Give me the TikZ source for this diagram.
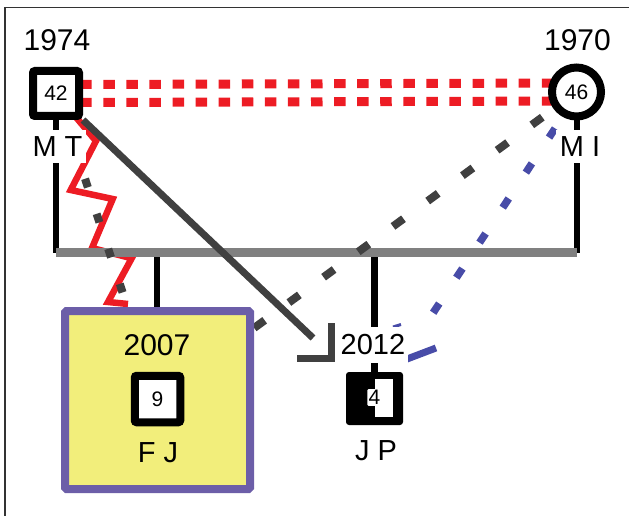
\documentclass[tikz,border=0pt]{standalone}
\usepackage{fontspec}
\setmainfont{Liberation Sans}
\usetikzlibrary{calc}
\pgfdeclarelayer{background}
\pgfsetlayers{background,main}
\definecolor{myred}{RGB}{237,28,36}
\definecolor{dgray}{RGB}{64,64,64}
\definecolor{bargray}{RGB}{128,128,128}
\definecolor{myblue}{RGB}{72,76,168}
\definecolor{mypurple}{RGB}{108,94,168}
\definecolor{myyellow}{RGB}{242,238,123}
\tikzset{
  yeartext/.style={inner sep=0pt, font=\fontsize{30}{36}\selectfont},
  nametext/.style={fill=white, inner xsep=4pt, inner ysep=7pt, font=\fontsize{29}{35}\selectfont},
  agetext/.style={inner sep=0pt, font=\fontsize{21}{25}\selectfont},
  malebox/.style={draw=black, fill=white, line width=8pt, rounded corners=2pt, inner sep=0pt, font=\fontsize{21}{25}\selectfont},
  femalecirc/.style={circle, draw=black, fill=white, line width=8pt, inner sep=0pt, minimum size=49pt, font=\fontsize{21}{25}\selectfont},
  kinline/.style={line width=6.5pt, black},
  barline/.style={line width=8.5pt, bargray},
  reddot/.style={line width=9pt, myred, dash pattern=on 11.5pt off 11.58pt},
  graydash/.style={line width=8pt, dgray, dash pattern=on 13pt off 30pt},
  graysmall/.style={line width=8pt, dgray, dash pattern=on 9pt off 27.9pt},
  bluedash/.style={line width=7.5pt, myblue, dash pattern=on 11pt off 31pt},
  zig/.style={line width=6.5pt, myred, line join=miter},
  solidgray/.style={line width=7pt, dgray},
}
\begin{document}
\begin{tikzpicture}[x=1pt,y=-1pt]
\useasboundingbox (0,0) rectangle (629,516);
\draw[line width=1.5pt, black!80] (5,516) -- (5,7.5) -- (629,7.5);

% persons
\node[malebox, minimum width=46pt, minimum height=45pt] (mt) at (56,93.5) {42};
\node[femalecirc] (mi) at (576.5,92) {46};
\node[yeartext] (y1974) at (57,40) {1974};
\node[yeartext] (y1970) at (577.5,40) {1970};
\node[nametext] (mtname) at (57.5,146.5) {M T};
\node[nametext] (miname) at (580,146.5) {M I};

% bar coordinates
\coordinate (barL) at (56,252.5);
\coordinate (barR) at (577,252.5);
\coordinate (barFJ) at (157,252.5);
\coordinate (barJP) at (374.5,252.5);

% FJ box
\node[draw=mypurple, fill=myyellow, line width=8pt, rounded corners=1.5pt, minimum width=185pt, minimum height=178pt, inner sep=0pt] (fjbox) at (157.5,400) {};
\node[yeartext] (y2007) at (157,345) {2007};
\node[malebox, minimum width=45.5pt, minimum height=46.5pt] (fj) at (157.5,399) {9};
\node[nametext, fill=none] (fjname) at (158,453) {F J};

% JP
\node[yeartext, fill=white, inner xsep=3pt, inner ysep=8pt, font=\fontsize{29}{35}\selectfont] (y2012) at (373,345) {2012};
\node[fill=black, rounded corners=3pt, minimum width=57pt, minimum height=53pt, inner sep=0pt] (jp) at (374.5,398.5) {};
\fill[white] (375,379) rectangle (393,417);
\node[agetext, fill=white, inner xsep=1.2pt, inner ysep=1.2pt, rounded corners=1pt] (jpage) at (374.5,397.5) {4};
\node[nametext, fill=none] (jpname) at (376,451) {J P};

% connectors
\coordinate (arrowend) at (313,338);
\coordinate (ltop) at (331.25,323);
\coordinate (lcorner) at (331.25,358.25);
\coordinate (lleft) at (297,358.25);
\coordinate (gdstart) at (542.3,117.2);
\coordinate (gdend) at (250,331);
\coordinate (gsstart) at (61.9,108.7);
\coordinate (gsend) at (135,330);
\coordinate (bdstart) at (555.1,128.4);
\coordinate (bdend) at (433,313);

\begin{pgfonlayer}{background}
  \draw[reddot] ($(mt.center)+(24.2,-9)$) -- ($(mi.center)+(-10,-9)$);
  \draw[reddot] ($(mt.center)+(24.2,9)$) -- ($(mi.center)+(-10,9)$);
  \draw[zig] (mt.center) -- (96,141) -- (70.7,190) -- (112.7,199) -- (92,248) -- (131.7,258.3) -- (108,302) -- (128,304);
  \draw[kinline] (mt.center) -- (barL);
  \draw[kinline] (mi.center -| barR) -- (barR);
  \draw[kinline] (barFJ) -- (fjbox.north -| barFJ);
  \draw[kinline] (barJP) -- (jp.center -| barJP);
  \draw[barline] (barL) -- (barR);
  \draw[graysmall] (gsstart) -- (gsend);
  \draw[graydash] (gdstart) -- (gdend);
  \draw[solidgray] (mt.south east) -- (arrowend);
  \draw[solidgray, line join=miter] (ltop) -- (lcorner) -- (lleft);
  \draw[bluedash] (bdstart) -- (bdend);
  \draw[line width=3pt, myblue] (393,327) -- (401,324.5);
  \draw[line width=7pt, myblue] (407,359) -- (436,348);
\end{pgfonlayer}
\end{tikzpicture}
\end{document}
